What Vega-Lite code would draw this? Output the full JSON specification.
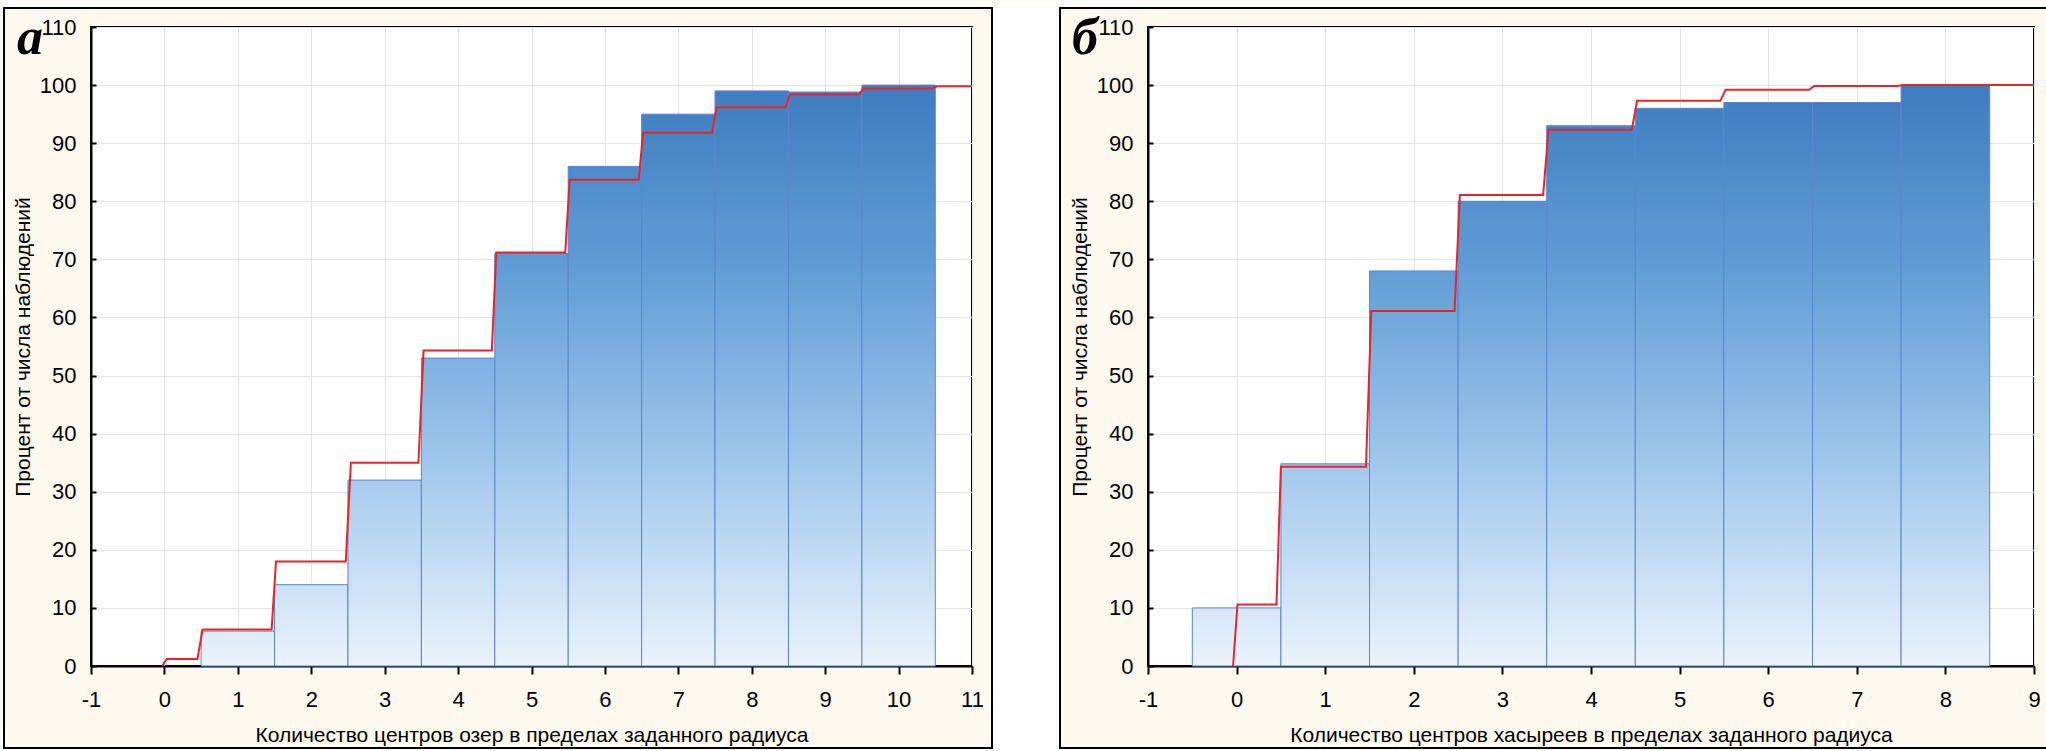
{
  "$schema": "https://vega.github.io/schema/vega-lite/v6.json",
  "padding": 0,
  "background": "#FEF9EE",
  "spacing": 0,
  "config": {
    "view": {"stroke": "black", "strokeWidth": 2, "fill": "white"},
    "axis": {
      "labelFont": "Liberation Sans", "labelFontSize": 22, "labelColor": "black",
      "titleFont": "Liberation Sans", "titleFontSize": 21, "titleFontWeight": "normal", "titleColor": "black",
      "domainColor": "black", "domainWidth": 2, "tickColor": "black", "tickWidth": 2,
      "gridColor": "#E6E6E6", "gridWidth": 1
    }
  },
  "hconcat": [
    {
      "width": 881, "height": 639,
      "layer": [
        {"data": {"values": [{}]}, "mark": {"type": "rect", "fill": "white"},
         "encoding": {"x": {"datum": -2.21226, "type": "quantitative", "scale": {"domain": [-1, 11], "nice": false, "zero": false}}, "x2": {"datum": 12.14415},
                      "y": {"datum": 113.2707, "type": "quantitative", "scale": {"domain": [0, 110], "nice": false, "zero": false}}, "y2": {"datum": 114.4757}}},
        {"data": {"values": [{}]}, "mark": {"type": "rect", "fill": "white"},
         "encoding": {"x": {"datum": -2.21226, "type": "quantitative", "scale": {"domain": [-1, 11], "nice": false, "zero": false}}, "x2": {"datum": 12.14415},
                      "y": {"datum": -14.8044, "type": "quantitative", "scale": {"domain": [0, 110], "nice": false, "zero": false}}, "y2": {"datum": -14.1158}}},
        {"data": {"values": [{}]}, "mark": {"type": "rect", "fill": "white"},
         "encoding": {"x": {"datum": -2.21226, "type": "quantitative", "scale": {"domain": [-1, 11], "nice": false, "zero": false}}, "x2": {"datum": -2.18502},
                      "y": {"datum": -14.8044, "type": "quantitative", "scale": {"domain": [0, 110], "nice": false, "zero": false}}, "y2": {"datum": 114.4757}}},
        {"data": {"values": [{}]}, "mark": {"type": "rect", "fill": "white"},
         "encoding": {"x": {"datum": 11.27242, "type": "quantitative", "scale": {"domain": [-1, 11], "nice": false, "zero": false}}, "x2": {"datum": 12.14415},
                      "y": {"datum": -14.8044, "type": "quantitative", "scale": {"domain": [0, 110], "nice": false, "zero": false}}, "y2": {"datum": 114.4757}}},
        {"data": {"values": [{}]}, "mark": {"type": "rect", "fill": "transparent", "stroke": "black", "strokeWidth": 2},
         "encoding": {"x": {"datum": -2.18502, "type": "quantitative", "scale": {"domain": [-1, 11], "nice": false, "zero": false}}, "x2": {"datum": 11.27242},
                      "y": {"datum": -14.1158, "type": "quantitative", "scale": {"domain": [0, 110], "nice": false, "zero": false}}, "y2": {"datum": 113.2707}}},
        {
          "data": {"values": [
            {"bin_start": 0.5, "bin_end": 1.5, "cum_pct": 6},
            {"bin_start": 1.5, "bin_end": 2.5, "cum_pct": 14},
            {"bin_start": 2.5, "bin_end": 3.5, "cum_pct": 32},
            {"bin_start": 3.5, "bin_end": 4.5, "cum_pct": 53},
            {"bin_start": 4.5, "bin_end": 5.5, "cum_pct": 71},
            {"bin_start": 5.5, "bin_end": 6.5, "cum_pct": 86},
            {"bin_start": 6.5, "bin_end": 7.5, "cum_pct": 95},
            {"bin_start": 7.5, "bin_end": 8.5, "cum_pct": 99},
            {"bin_start": 8.5, "bin_end": 9.5, "cum_pct": 98.8},
            {"bin_start": 9.5, "bin_end": 10.5, "cum_pct": 100}
          ]},
          "mark": {"type": "rect", "stroke": "#5A85CF", "strokeWidth": 1},
          "encoding": {
            "x": {"field": "bin_start", "type": "quantitative", "scale": {"domain": [-1, 11], "nice": false, "zero": false},
                  "axis": {"title": "Количество центров озер в пределах заданного радиуса", "values": [-1,0,1,2,3,4,5,6,7,8,9,10,11], "labelExpr": "'' + datum.value", "labelFontSize": 22, "titleFontSize": 21, "tickSize": 8, "labelPadding": 15, "titlePadding": 14, "grid": true, "labelFlush": false, "labelOverlap": false}},
            "x2": {"field": "bin_end"},
            "y": {"field": "cum_pct", "type": "quantitative", "scale": {"domain": [0, 110], "nice": false, "zero": false},
                  "axis": {"title": "Процент от числа наблюдений", "values": [0,10,20,30,40,50,60,70,80,90,100,110], "labelExpr": "'' + datum.value", "labelFontSize": 22, "titleFontSize": 21, "tickSize": -5, "labelPadding": 20, "titlePadding": 6, "grid": true, "labelOverlap": false}},
            "y2": {"datum": 0},
            "fill": {
              "condition": [
                {"test": "datum.cum_pct === 6", "value": {"gradient": "linear", "x1": 0, "y1": -15.6667, "x2": 0, "y2": 1, "stops": [{"offset": 0, "color": "#3F7CC0"}, {"offset": 0.3, "color": "#5E9BD5"}, {"offset": 0.65, "color": "#A0C7EC"}, {"offset": 1, "color": "#EAF3FC"}]}},
                {"test": "datum.cum_pct === 14", "value": {"gradient": "linear", "x1": 0, "y1": -6.142857, "x2": 0, "y2": 1, "stops": [{"offset": 0, "color": "#3F7CC0"}, {"offset": 0.3, "color": "#5E9BD5"}, {"offset": 0.65, "color": "#A0C7EC"}, {"offset": 1, "color": "#EAF3FC"}]}},
                {"test": "datum.cum_pct === 32", "value": {"gradient": "linear", "x1": 0, "y1": -2.125, "x2": 0, "y2": 1, "stops": [{"offset": 0, "color": "#3F7CC0"}, {"offset": 0.3, "color": "#5E9BD5"}, {"offset": 0.65, "color": "#A0C7EC"}, {"offset": 1, "color": "#EAF3FC"}]}},
                {"test": "datum.cum_pct === 53", "value": {"gradient": "linear", "x1": 0, "y1": -0.886792, "x2": 0, "y2": 1, "stops": [{"offset": 0, "color": "#3F7CC0"}, {"offset": 0.3, "color": "#5E9BD5"}, {"offset": 0.65, "color": "#A0C7EC"}, {"offset": 1, "color": "#EAF3FC"}]}},
                {"test": "datum.cum_pct === 71", "value": {"gradient": "linear", "x1": 0, "y1": -0.408451, "x2": 0, "y2": 1, "stops": [{"offset": 0, "color": "#3F7CC0"}, {"offset": 0.3, "color": "#5E9BD5"}, {"offset": 0.65, "color": "#A0C7EC"}, {"offset": 1, "color": "#EAF3FC"}]}},
                {"test": "datum.cum_pct === 86", "value": {"gradient": "linear", "x1": 0, "y1": -0.162791, "x2": 0, "y2": 1, "stops": [{"offset": 0, "color": "#3F7CC0"}, {"offset": 0.3, "color": "#5E9BD5"}, {"offset": 0.65, "color": "#A0C7EC"}, {"offset": 1, "color": "#EAF3FC"}]}},
                {"test": "datum.cum_pct === 95", "value": {"gradient": "linear", "x1": 0, "y1": -0.052632, "x2": 0, "y2": 1, "stops": [{"offset": 0, "color": "#3F7CC0"}, {"offset": 0.3, "color": "#5E9BD5"}, {"offset": 0.65, "color": "#A0C7EC"}, {"offset": 1, "color": "#EAF3FC"}]}},
                {"test": "datum.cum_pct === 99", "value": {"gradient": "linear", "x1": 0, "y1": -0.010101, "x2": 0, "y2": 1, "stops": [{"offset": 0, "color": "#3F7CC0"}, {"offset": 0.3, "color": "#5E9BD5"}, {"offset": 0.65, "color": "#A0C7EC"}, {"offset": 1, "color": "#EAF3FC"}]}},
                {"test": "datum.cum_pct === 98.8", "value": {"gradient": "linear", "x1": 0, "y1": -0.012146, "x2": 0, "y2": 1, "stops": [{"offset": 0, "color": "#3F7CC0"}, {"offset": 0.3, "color": "#5E9BD5"}, {"offset": 0.65, "color": "#A0C7EC"}, {"offset": 1, "color": "#EAF3FC"}]}}
              ],
              "value": {"gradient": "linear", "x1": 0, "y1": 0, "x2": 0, "y2": 1, "stops": [{"offset": 0, "color": "#3F7CC0"}, {"offset": 0.3, "color": "#5E9BD5"}, {"offset": 0.65, "color": "#A0C7EC"}, {"offset": 1, "color": "#EAF3FC"}]}
            }
          }
        },
        {
          "data": {"values": [
            {"x": -0.03, "pct": 0}, {"x": 0.03, "pct": 1.2}, {"x": 0.45, "pct": 1.2}, {"x": 0.52, "pct": 6.3},
            {"x": 1.46, "pct": 6.3}, {"x": 1.52, "pct": 18}, {"x": 2.47, "pct": 18}, {"x": 2.54, "pct": 35},
            {"x": 3.46, "pct": 35}, {"x": 3.53, "pct": 54.3}, {"x": 4.46, "pct": 54.3}, {"x": 4.52, "pct": 71.2},
            {"x": 5.46, "pct": 71.2}, {"x": 5.52, "pct": 83.7}, {"x": 6.46, "pct": 83.7}, {"x": 6.52, "pct": 91.8},
            {"x": 7.46, "pct": 91.8}, {"x": 7.52, "pct": 96.2}, {"x": 8.46, "pct": 96.2}, {"x": 8.52, "pct": 98.4},
            {"x": 9.46, "pct": 98.4}, {"x": 9.52, "pct": 99.4}, {"x": 10.46, "pct": 99.4}, {"x": 10.52, "pct": 99.8},
            {"x": 11, "pct": 99.8}
          ]},
          "mark": {"type": "line", "color": "#E8242B", "strokeWidth": 2},
          "encoding": {
            "x": {"field": "x", "type": "quantitative", "scale": {"domain": [-1, 11], "nice": false, "zero": false}},
            "y": {"field": "pct", "type": "quantitative", "scale": {"domain": [0, 110], "nice": false, "zero": false}}
          }
        },
        {"data": {"values": [{}]},
         "mark": {"type": "text", "text": "а", "font": "Liberation Serif", "fontSize": 52, "fontWeight": "bold", "fontStyle": "italic", "align": "left", "baseline": "alphabetic", "color": "black"},
         "encoding": {"x": {"datum": -2.00794, "type": "quantitative", "scale": {"domain": [-1, 11], "nice": false, "zero": false}},
                      "y": {"datum": 105.352, "type": "quantitative", "scale": {"domain": [0, 110], "nice": false, "zero": false}}}}
      ]
    },
    {
      "width": 886, "height": 639,
      "layer": [
        {"data": {"values": [{}]}, "mark": {"type": "rect", "fill": "white"},
         "encoding": {"x": {"datum": -2.0158, "type": "quantitative", "scale": {"domain": [-1, 9], "nice": false, "zero": false}}, "x2": {"datum": 9.18059},
                      "y": {"datum": 113.2707, "type": "quantitative", "scale": {"domain": [0, 110], "nice": false, "zero": false}}, "y2": {"datum": 114.4757}}},
        {"data": {"values": [{}]}, "mark": {"type": "rect", "fill": "white"},
         "encoding": {"x": {"datum": -2.0158, "type": "quantitative", "scale": {"domain": [-1, 9], "nice": false, "zero": false}}, "x2": {"datum": 9.18059},
                      "y": {"datum": -14.8044, "type": "quantitative", "scale": {"domain": [0, 110], "nice": false, "zero": false}}, "y2": {"datum": -14.1158}}},
        {"data": {"values": [{}]}, "mark": {"type": "rect", "fill": "white"},
         "encoding": {"x": {"datum": -2.0158, "type": "quantitative", "scale": {"domain": [-1, 9], "nice": false, "zero": false}}, "x2": {"datum": -1.99323},
                      "y": {"datum": -14.8044, "type": "quantitative", "scale": {"domain": [0, 110], "nice": false, "zero": false}}, "y2": {"datum": 114.4757}}},
        {"data": {"values": [{}]}, "mark": {"type": "rect", "fill": "transparent", "stroke": "black", "strokeWidth": 2},
         "encoding": {"x": {"datum": -1.99323, "type": "quantitative", "scale": {"domain": [-1, 9], "nice": false, "zero": false}}, "x2": {"datum": 9.15801},
                      "y": {"datum": -14.1158, "type": "quantitative", "scale": {"domain": [0, 110], "nice": false, "zero": false}}, "y2": {"datum": 113.2707}}},
        {
          "data": {"values": [
            {"bin_start": -0.5, "bin_end": 0.5, "cum_pct": 10},
            {"bin_start": 0.5, "bin_end": 1.5, "cum_pct": 34.8},
            {"bin_start": 1.5, "bin_end": 2.5, "cum_pct": 68},
            {"bin_start": 2.5, "bin_end": 3.5, "cum_pct": 80},
            {"bin_start": 3.5, "bin_end": 4.5, "cum_pct": 93},
            {"bin_start": 4.5, "bin_end": 5.5, "cum_pct": 96},
            {"bin_start": 5.5, "bin_end": 6.5, "cum_pct": 97},
            {"bin_start": 6.5, "bin_end": 7.5, "cum_pct": 97},
            {"bin_start": 7.5, "bin_end": 8.5, "cum_pct": 100}
          ]},
          "mark": {"type": "rect", "stroke": "#5A85CF", "strokeWidth": 1},
          "encoding": {
            "x": {"field": "bin_start", "type": "quantitative", "scale": {"domain": [-1, 9], "nice": false, "zero": false},
                  "axis": {"title": "Количество центров хасыреев в пределах заданного радиуса", "values": [-1,0,1,2,3,4,5,6,7,8,9], "labelExpr": "'' + datum.value", "labelFontSize": 22, "titleFontSize": 21, "tickSize": 8, "labelPadding": 15, "titlePadding": 14, "grid": true, "labelFlush": false, "labelOverlap": false}},
            "x2": {"field": "bin_end"},
            "y": {"field": "cum_pct", "type": "quantitative", "scale": {"domain": [0, 110], "nice": false, "zero": false},
                  "axis": {"title": "Процент от числа наблюдений", "values": [0,10,20,30,40,50,60,70,80,90,100,110], "labelExpr": "'' + datum.value", "labelFontSize": 22, "titleFontSize": 21, "tickSize": -5, "labelPadding": 20, "titlePadding": 6, "grid": true, "labelOverlap": false}},
            "y2": {"datum": 0},
            "fill": {
              "condition": [
                {"test": "datum.cum_pct === 10", "value": {"gradient": "linear", "x1": 0, "y1": -9, "x2": 0, "y2": 1, "stops": [{"offset": 0, "color": "#3F7CC0"}, {"offset": 0.3, "color": "#5E9BD5"}, {"offset": 0.65, "color": "#A0C7EC"}, {"offset": 1, "color": "#EAF3FC"}]}},
                {"test": "datum.cum_pct === 34.8", "value": {"gradient": "linear", "x1": 0, "y1": -1.873563, "x2": 0, "y2": 1, "stops": [{"offset": 0, "color": "#3F7CC0"}, {"offset": 0.3, "color": "#5E9BD5"}, {"offset": 0.65, "color": "#A0C7EC"}, {"offset": 1, "color": "#EAF3FC"}]}},
                {"test": "datum.cum_pct === 68", "value": {"gradient": "linear", "x1": 0, "y1": -0.470588, "x2": 0, "y2": 1, "stops": [{"offset": 0, "color": "#3F7CC0"}, {"offset": 0.3, "color": "#5E9BD5"}, {"offset": 0.65, "color": "#A0C7EC"}, {"offset": 1, "color": "#EAF3FC"}]}},
                {"test": "datum.cum_pct === 80", "value": {"gradient": "linear", "x1": 0, "y1": -0.25, "x2": 0, "y2": 1, "stops": [{"offset": 0, "color": "#3F7CC0"}, {"offset": 0.3, "color": "#5E9BD5"}, {"offset": 0.65, "color": "#A0C7EC"}, {"offset": 1, "color": "#EAF3FC"}]}},
                {"test": "datum.cum_pct === 93", "value": {"gradient": "linear", "x1": 0, "y1": -0.075269, "x2": 0, "y2": 1, "stops": [{"offset": 0, "color": "#3F7CC0"}, {"offset": 0.3, "color": "#5E9BD5"}, {"offset": 0.65, "color": "#A0C7EC"}, {"offset": 1, "color": "#EAF3FC"}]}},
                {"test": "datum.cum_pct === 96", "value": {"gradient": "linear", "x1": 0, "y1": -0.041667, "x2": 0, "y2": 1, "stops": [{"offset": 0, "color": "#3F7CC0"}, {"offset": 0.3, "color": "#5E9BD5"}, {"offset": 0.65, "color": "#A0C7EC"}, {"offset": 1, "color": "#EAF3FC"}]}},
                {"test": "datum.cum_pct === 97", "value": {"gradient": "linear", "x1": 0, "y1": -0.030928, "x2": 0, "y2": 1, "stops": [{"offset": 0, "color": "#3F7CC0"}, {"offset": 0.3, "color": "#5E9BD5"}, {"offset": 0.65, "color": "#A0C7EC"}, {"offset": 1, "color": "#EAF3FC"}]}}
              ],
              "value": {"gradient": "linear", "x1": 0, "y1": 0, "x2": 0, "y2": 1, "stops": [{"offset": 0, "color": "#3F7CC0"}, {"offset": 0.3, "color": "#5E9BD5"}, {"offset": 0.65, "color": "#A0C7EC"}, {"offset": 1, "color": "#EAF3FC"}]}
            }
          }
        },
        {
          "data": {"values": [
            {"x": -0.04, "pct": 0}, {"x": 0.01, "pct": 10.6}, {"x": 0.45, "pct": 10.6}, {"x": 0.5, "pct": 34.3},
            {"x": 1.46, "pct": 34.3}, {"x": 1.52, "pct": 61.1}, {"x": 2.46, "pct": 61.1}, {"x": 2.52, "pct": 81.1},
            {"x": 3.46, "pct": 81.1}, {"x": 3.52, "pct": 92.3}, {"x": 4.46, "pct": 92.3}, {"x": 4.52, "pct": 97.3},
            {"x": 5.46, "pct": 97.3}, {"x": 5.52, "pct": 99.2}, {"x": 6.46, "pct": 99.2}, {"x": 6.52, "pct": 99.85},
            {"x": 7.46, "pct": 99.85}, {"x": 7.52, "pct": 100}, {"x": 9, "pct": 100}
          ]},
          "mark": {"type": "line", "color": "#E8242B", "strokeWidth": 2},
          "encoding": {
            "x": {"field": "x", "type": "quantitative", "scale": {"domain": [-1, 9], "nice": false, "zero": false}},
            "y": {"field": "pct", "type": "quantitative", "scale": {"domain": [0, 110], "nice": false, "zero": false}}
          }
        },
        {"data": {"values": [{}]},
         "mark": {"type": "text", "text": "б", "font": "Liberation Serif", "fontSize": 52, "fontWeight": "bold", "fontStyle": "italic", "align": "left", "baseline": "alphabetic", "color": "black"},
         "encoding": {"x": {"datum": -1.85779, "type": "quantitative", "scale": {"domain": [-1, 9], "nice": false, "zero": false}},
                      "y": {"datum": 105.352, "type": "quantitative", "scale": {"domain": [0, 110], "nice": false, "zero": false}}}}
      ]
    }
  ]
}
